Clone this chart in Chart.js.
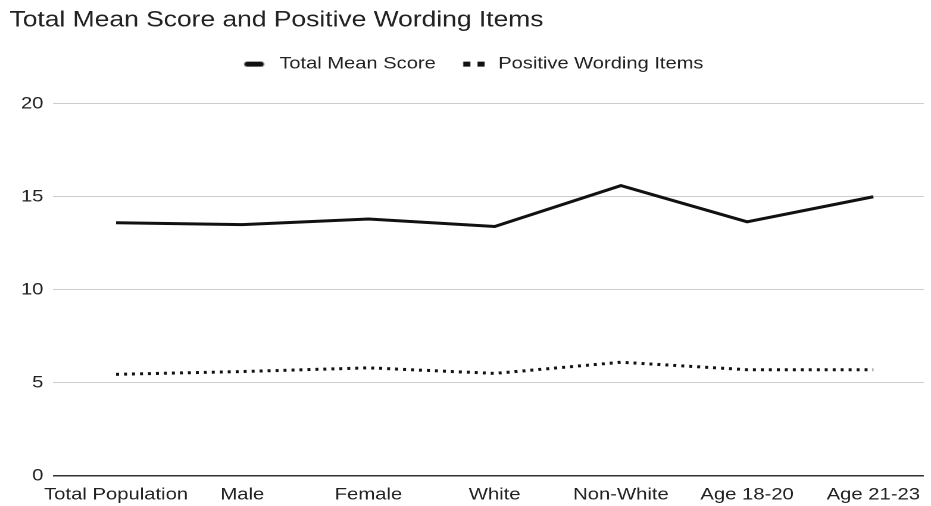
<!DOCTYPE html>
<html>
<head>
<meta charset="utf-8">
<script src="https://cdn.jsdelivr.net/npm/chart.js@4/dist/chart.umd.min.js"></script>
<style>
  html, body { margin: 0; padding: 0; background: #ffffff; }
</style>
</head>
<body>
<canvas id="chart" width="782" height="506" style="display:block;width:931px;height:506px"></canvas>
<script>
// Survey groups along the horizontal axis
const categories = ['Total Population', 'Male', 'Female', 'White', 'Non-White', 'Age 18-20', 'Age 21-23'];

// Mean scores per group
const totalMeanScore = [13.6, 13.5, 13.8, 13.4, 15.6, 13.65, 15.0];
const positiveWordingItems = [5.45, 5.6, 5.8, 5.5, 6.1, 5.7, 5.7];

// Vertical axis ticks
const yTicks = [0, 5, 10, 15, 20];

const chartTitle = 'Total Mean Score and Positive Wording Items';
const seriesNames = ['Total Mean Score', 'Positive Wording Items'];

const FONT = '"Liberation Sans", Arial, Helvetica, sans-serif';
const INK = '#222222';

// Small legend swatches: a solid bar and a pair of dots
function swatch(kind) {
  const c = document.createElement('canvas');
  c.width = 22; c.height = 7;
  const g = c.getContext('2d');
  g.fillStyle = '#111111';
  if (kind === 'solid') {
    g.beginPath();
    g.moveTo(3.5, 1); g.lineTo(15, 1);
    g.arc(15, 3.5, 2.5, -Math.PI / 2, Math.PI / 2);
    g.lineTo(3.5, 6);
    g.arc(3.5, 3.5, 2.5, Math.PI / 2, 3 * Math.PI / 2);
    g.fill();
  } else {
    g.fillRect(1, 1, 6, 5);
    g.fillRect(13, 1, 6, 5);
  }
  return c;
}
const swatches = [swatch('solid'), swatch('dots')];

const toPoints = arr => arr.map((v, i) => ({ x: i, y: v }));

// Nudge the legend row a little to the right of the canvas centre
const legendOffset = {
  id: 'legendOffset',
  afterLayout(chart) {
    const lg = chart.legend;
    if (lg) { lg.left += 4.5; lg.right += 4.5; }
  }
};

new Chart(document.getElementById('chart'), {
  type: 'line',
  data: {
    datasets: [
      {
        label: seriesNames[0],
        data: toPoints(totalMeanScore),
        borderColor: '#111111',
        borderWidth: 3,
        pointRadius: 0,
        tension: 0,
        fill: false
      },
      {
        label: seriesNames[1],
        data: toPoints(positiveWordingItems),
        borderColor: '#111111',
        borderWidth: 3,
        borderDash: [2.5, 4.2],
        borderCapStyle: 'butt',
        pointRadius: 0,
        tension: 0,
        fill: false
      }
    ]
  },
  plugins: [legendOffset],
  options: {
    responsive: false,
    devicePixelRatio: 2,
    animation: false,
    layout: { padding: { left: 8, right: 4, top: 0, bottom: 0 } },
    plugins: {
      title: {
        display: true,
        text: chartTitle,
        align: 'start',
        color: INK,
        font: { family: FONT, size: 22.2, weight: 'normal' },
        padding: { top: 7, bottom: 0 }
      },
      legend: {
        display: true,
        position: 'top',
        align: 'center',
        labels: {
          usePointStyle: true,
          pointStyleWidth: 22,
          padding: 22,
          color: INK,
          font: { family: FONT, size: 16.9 },
          generateLabels: chart => chart.data.datasets.map((ds, i) => ({
            text: ds.label,
            pointStyle: swatches[i],
            fillStyle: '#111111',
            strokeStyle: '#111111',
            lineWidth: 0,
            fontColor: INK,
            hidden: false,
            datasetIndex: i
          }))
        }
      },
      // empty gap between the legend row and the plot
      subtitle: {
        display: true,
        text: ' ',
        position: 'top',
        weight: 500,
        font: { family: FONT, size: 10 },
        padding: { top: 9.2, bottom: 0 }
      },
      tooltip: { enabled: false }
    },
    scales: {
      x: {
        type: 'linear',
        min: -0.5,
        max: 6.4,
        grid: { display: false, drawTicks: false },
        border: { display: false },
        afterBuildTicks: scale => {
          scale.ticks = categories.map((_, i) => ({ value: i }));
        },
        afterFit: scale => { scale.height = 30.3; },
        ticks: {
          autoSkip: false,
          maxRotation: 0,
          padding: 9,
          color: INK,
          font: { family: FONT, size: 17 },
          callback: v => categories[v]
        }
      },
      y: {
        min: 0,
        max: 20,
        afterBuildTicks: scale => {
          scale.ticks = yTicks.map(v => ({ value: v }));
        },
        afterFit: scale => { scale.width = 36.5; },
        border: { display: false },
        grid: {
          drawTicks: false,
          color: c => (c.tick && c.tick.value === 0 ? '#333333' : '#cccccc'),
          lineWidth: c => (c.tick && c.tick.value === 0 ? 1.5 : 1)
        },
        ticks: {
          padding: 8,
          color: INK,
          font: { family: FONT, size: 17 }
        }
      }
    }
  }
});
</script>
</body>
</html>
